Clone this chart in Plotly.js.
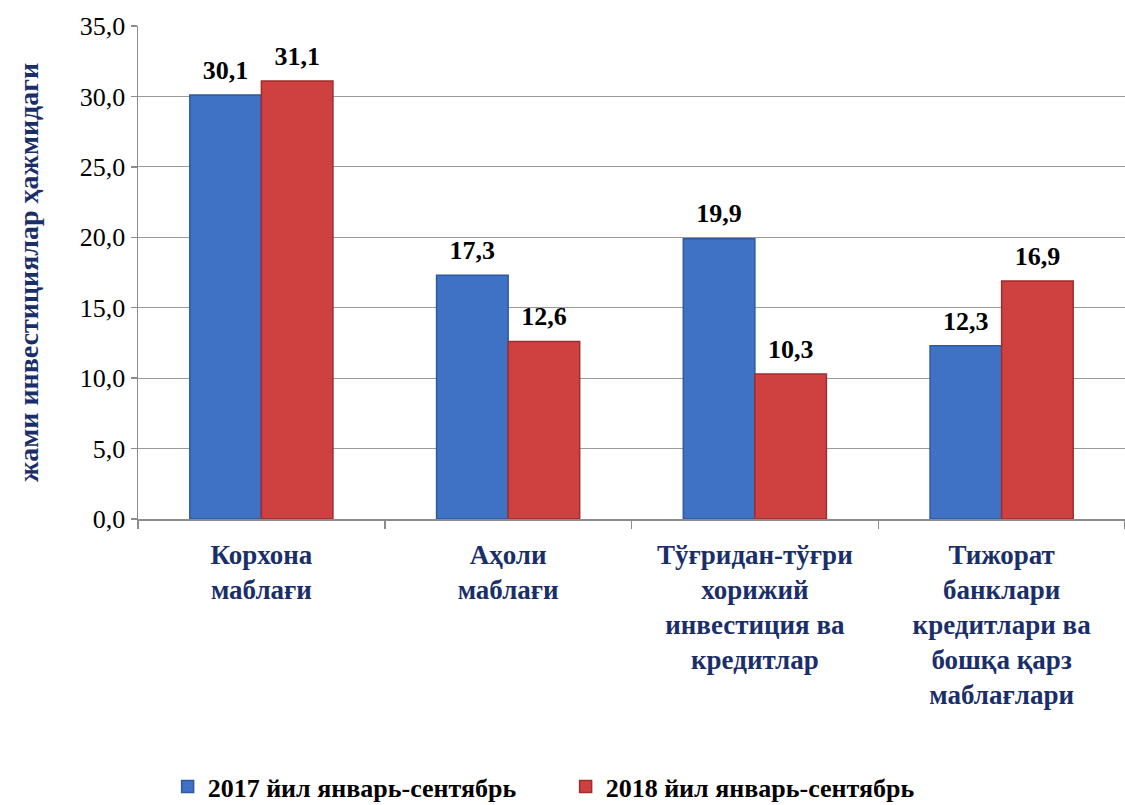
<!DOCTYPE html>
<html>
<head>
<meta charset="utf-8">
<script src="https://cdn.plot.ly/plotly-3.0.1.min.js"></script>
<style>html,body{margin:0;padding:0;background:#fff;}#chart{width:1125px;height:805px;}</style>
</head>
<body>
<div id="chart"></div>
<script>
const categories = [
  "Корхона<br>маблағи",
  "Аҳоли<br>маблағи",
  "Тўғридан-тўғри<br>хорижий<br>инвестиция ва<br>кредитлар",
  "Тижорат<br>банклари<br>кредитлари ва<br>бошқа қарз<br>маблағлари"
];
const series2017 = [30.1, 17.3, 19.9, 12.3];
const series2018 = [31.1, 12.6, 10.3, 16.9];
const seriesNames = ["2017 йил январь-сентябрь", "2018 йил январь-сентябрь"];
const yTicks = [0, 5, 10, 15, 20, 25, 30, 35];
const yTitle = "жами инвестициялар ҳажмидаги";

const serif = "Liberation Serif";
const navy = "#1a2f6a";
const labelFont = {family: serif, size: 26, color: "#000", weight: "bold"};

function bar(name, y, color, line) {
  return {type: "bar", name: name, x: categories, y: y,
    marker: {color: color, line: {color: line, width: 1.5}}, hoverinfo: "skip"};
}
function labels(y) {
  return {type: "scatter", mode: "markers+text", x: categories, y: y,
    text: y.map(v => "<b>" + v.toFixed(1).replace(".", ",") + "</b>"),
    textposition: "top center", textfont: labelFont, cliponaxis: false,
    marker: {size: 14, color: "rgba(0,0,0,0)"}, showlegend: false, hoverinfo: "skip"};
}

const traces = [
  bar(seriesNames[0], series2017, "#3f72c4", "#2d5a9e"),
  bar(seriesNames[1], series2018, "#cf4141", "#a02c2c"),
  labels(series2017),
  labels(series2018)
];

const layout = {
  width: 1125, height: 805,
  margin: {l: 138, r: 0, t: 26, b: 286},
  separators: ", ",
  paper_bgcolor: "#fff", plot_bgcolor: "#fff",
  barmode: "group", bargap: 0.42, bargroupgap: 0,
  scattermode: "group", scattergap: 0.42,
  font: {family: serif, color: "#000"},
  showlegend: true,
  legend: {
    orientation: "h", xref: "container", yref: "container",
    x: 0.149, xanchor: "left", y: 0.023, yanchor: "middle",
    font: {family: serif, size: 26, color: "#000", weight: "bold"},
    entrywidth: 353, itemclick: false
  },
  xaxis: {
    type: "category",
    showline: true, linecolor: "#8c8c8c", linewidth: 1.5,
    ticks: "outside", tickson: "boundaries", ticklen: 8, tickcolor: "#8c8c8c", tickwidth: 1.5,
    ticklabelstandoff: 11,
    tickfont: {family: serif, size: 27, color: navy, weight: "bold"},
    showgrid: false, zeroline: false
  },
  yaxis: {
    range: [0, 35], tickvals: yTicks, tickformat: ".1f",
    showline: true, linecolor: "#8c8c8c", linewidth: 1.5,
    ticks: "outside", ticklen: 6, tickcolor: "#8c8c8c", tickwidth: 1.5,
    showgrid: true, gridcolor: "#9a9a9a", gridwidth: 1.2,
    zeroline: false,
    tickfont: {family: serif, size: 26, color: "#000"},
    title: {text: "<b>" + yTitle + "</b>", standoff: 33,
            font: {family: serif, size: 28, color: navy, weight: "bold"}}
  }
};

Plotly.newPlot("chart", traces, layout, {displayModeBar: false, staticPlot: true});
</script>
</body>
</html>
